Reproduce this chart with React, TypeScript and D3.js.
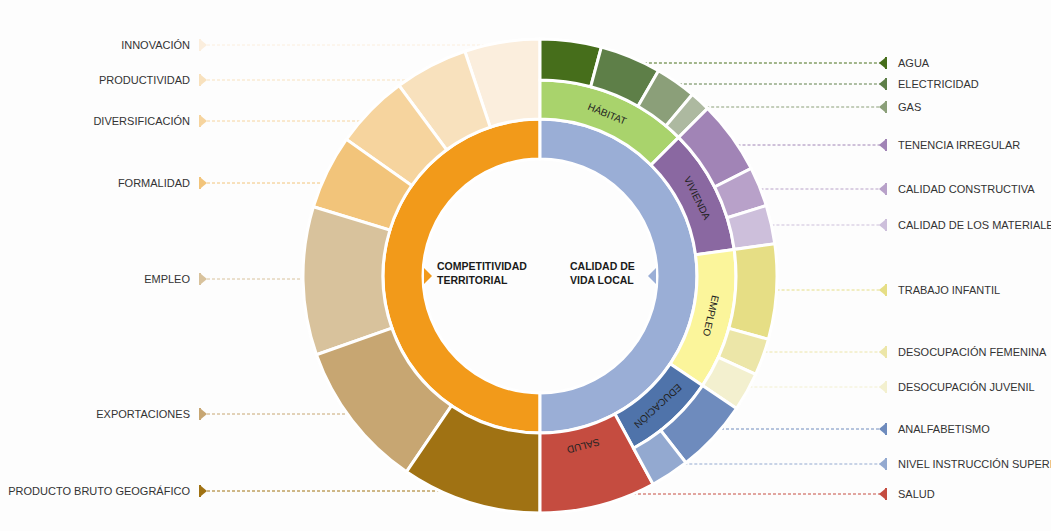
import * as d3 from "d3";

// Competitividad territorial (left half, outer ring)
const leftIndicators = [
  "INNOVACIÓN",
  "PRODUCTIVIDAD",
  "DIVERSIFICACIÓN",
  "FORMALIDAD",
  "EMPLEO",
  "EXPORTACIONES",
  "PRODUCTO BRUTO GEOGRÁFICO",
];
const leftValues = [18.5, 18, 18.3, 18.2, 36.4, 36.3, 34.3];
const leftColors = ["#fbeedd", "#f8e1bd", "#f6d49e", "#f2c47a", "#d8c29c", "#c7a672", "#a07213"];

// Calidad de vida local (right half)
const rightCategories = ["HÁBITAT", "VIVIENDA", "EMPLEO", "EDUCACIÓN", "SALUD"];
const rightCategoryColors = ["#a9d36c", "#8a68a1", "#fbf59b", "#4f73aa", "#c54c40"];
const rightIndicators = [
  "AGUA",
  "ELECTRICIDAD",
  "GAS",
  "",
  "TENENCIA IRREGULAR",
  "CALIDAD CONSTRUCTIVA",
  "CALIDAD DE LOS MATERIALES",
  "TRABAJO INFANTIL",
  "DESOCUPACIÓN FEMENINA",
  "DESOCUPACIÓN JUVENIL",
  "ANALFABETISMO",
  "NIVEL INSTRUCCIÓN SUPERIOR",
  "SALUD",
];
const rightIndicatorGroup = [0, 0, 0, 0, 1, 1, 1, 2, 2, 2, 3, 3, 4];
const rightValues = [15, 15, 10, 5, 18, 9.7, 9.5, 23.3, 9, 9.5, 18, 9.5, 28.5];
const rightColors = [
  "#466e1b", "#5e7f48", "#8b9f79", "#adb9a0",
  "#a184b6", "#b8a1c9", "#cdbfdb",
  "#e6de85", "#ece6a8", "#f3f0cf",
  "#6e8bbd", "#93a9d0",
  "#c54c40",
];

// callout layout (label rows)
const leftCalloutY = [45, 80, 121, 183, 279, 414, 491];
const rightCalloutY = [63, 84, 107, -1, 145, 189, 225, 290, 352, 387, 429, 464, 494];

const W = 1051;
const H = 531;
const cx = 540;
const cy = 276;
const rHole = 117;
const rInner = 157;
const rMid = 196;
const rOuter = 237;

const arc = d3.arc<any>();

export default function App() {
  const leftAngle = d3.scaleLinear().domain([0, d3.sum(leftValues)]).range([2 * Math.PI, Math.PI]);
  const rightAngle = d3.scaleLinear().domain([0, d3.sum(rightValues)]).range([0, Math.PI]);

  const leftCum = d3.cumsum(leftValues);
  const leftSegs = leftValues.map((v, i) => ({
    name: leftIndicators[i],
    color: leftColors[i],
    a0: leftAngle(leftCum[i] - v),
    a1: leftAngle(leftCum[i]),
    y: leftCalloutY[i],
  }));

  const rightCum = d3.cumsum(rightValues);
  const rightSegs = rightValues.map((v, i) => ({
    name: rightIndicators[i],
    group: rightIndicatorGroup[i],
    color: rightColors[i],
    a0: rightAngle(rightCum[i] - v),
    a1: rightAngle(rightCum[i]),
    y: rightCalloutY[i],
  }));

  const cats = rightCategories.map((name, g) => {
    const segs = rightSegs.filter((s) => s.group === g);
    const merged = segs.length === 1 && segs[0].name === name;
    return {
      name,
      color: rightCategoryColors[g],
      a0: segs[0].a0,
      a1: segs[segs.length - 1].a1,
      merged,
    };
  });

  const edgeX = (y: number, side: number) => {
    const dy = y - cy;
    return cx + side * Math.sqrt(Math.max(0, rOuter * rOuter - dy * dy));
  };

  const font = "'Liberation Sans', Arial, Helvetica, sans-serif";

  return (
    <div style={{ position: "absolute", left: 0, top: 0 }}>
      <svg width={W} height={H} style={{ display: "block", background: "#fdfdfd" }} fontFamily={font}>
        {/* callout lines */}
        {leftSegs.map((s, i) => (
          <g key={"lc" + i}>
            <line x1={207} x2={edgeX(s.y, -1)} y1={s.y} y2={s.y} stroke={s.color} strokeWidth={1} strokeDasharray="3,2" />
            <rect x={199} y={s.y - 6} width={2} height={12} fill={s.color} />
            <path d={`M201,${s.y - 5}L207,${s.y}L201,${s.y + 5}Z`} fill={s.color} />
            <text x={190} y={s.y} dy="0.35em" textAnchor="end" fontSize={11} fill="#333">
              {s.name}
            </text>
          </g>
        ))}
        {rightSegs.filter((s) => s.name).map((s, i) => (
          <g key={"rc" + i}>
            <line x1={edgeX(s.y, 1)} x2={881} y1={s.y} y2={s.y} stroke={s.color} strokeWidth={1} strokeDasharray="3,2" />
            <rect x={885} y={s.y - 6} width={2} height={12} fill={s.color} />
            <path d={`M885,${s.y - 5}L879,${s.y}L885,${s.y + 5}Z`} fill={s.color} />
            <text x={898} y={s.y} dy="0.35em" fontSize={11} fill="#333">
              {s.name}
            </text>
          </g>
        ))}

        <g transform={`translate(${cx},${cy})`}>
          {/* inner ring */}
          <path
            d={arc({ innerRadius: rHole, outerRadius: rInner, startAngle: Math.PI, endAngle: 2 * Math.PI })!}
            fill="#f29a1a"
            stroke="#fff"
            strokeWidth={3}
          />
          <path
            d={arc({ innerRadius: rHole, outerRadius: rInner, startAngle: 0, endAngle: Math.PI })!}
            fill="#9aaed6"
            stroke="#fff"
            strokeWidth={3}
          />
          {/* notches */}
          <path d={`M${-rHole + 1},-8L${-rHole + 9},0L${-rHole + 1},8Z`} fill="#f29a1a" />
          <path d={`M${rHole - 1},-8L${rHole - 9},0L${rHole - 1},8Z`} fill="#9aaed6" />

          {/* left outer ring */}
          {leftSegs.map((s, i) => (
            <path
              key={"l" + i}
              d={arc({ innerRadius: rInner, outerRadius: rOuter, startAngle: s.a0, endAngle: s.a1 })!}
              fill={s.color}
              stroke="#fff"
              strokeWidth={3}
            />
          ))}

          {/* right middle ring */}
          {cats.map((c, i) => (
            <path
              key={"c" + i}
              d={arc({ innerRadius: rInner, outerRadius: c.merged ? rOuter : rMid, startAngle: c.a0, endAngle: c.a1 })!}
              fill={c.color}
              stroke="#fff"
              strokeWidth={3}
            />
          ))}

          {/* right outer ring */}
          {rightSegs
            .filter((s) => !cats[s.group].merged)
            .map((s, i) => (
              <path
                key={"r" + i}
                d={arc({ innerRadius: rMid, outerRadius: rOuter, startAngle: s.a0, endAngle: s.a1 })!}
                fill={s.color}
                stroke="#fff"
                strokeWidth={3}
              />
            ))}

          {/* category labels */}
          {cats.map((c, i) => {
            const a = (c.a0 + c.a1) / 2;
            const r = (rInner + rMid) / 2 - 1;
            const deg = (a * 180) / Math.PI;
            return (
              <text
                key={"t" + i}
                transform={`translate(${r * Math.sin(a)},${-r * Math.cos(a)}) rotate(${deg})`}
                textAnchor="middle"
                dy="0.35em"
                fontSize={10}
                fill="#222"
              >
                {c.name}
              </text>
            );
          })}
        </g>

        {/* center titles */}
        <g fontSize={10.5} fontWeight="bold" fill="#1a1a1a">
          <text x={437} y={270}>COMPETITIVIDAD</text>
          <text x={437} y={284}>TERRITORIAL</text>
          <text x={570} y={270}>CALIDAD DE</text>
          <text x={570} y={284}>VIDA LOCAL</text>
        </g>
      </svg>
    </div>
  );
}
